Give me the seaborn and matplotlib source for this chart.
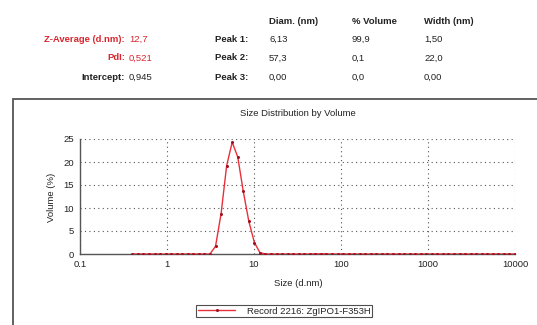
import matplotlib
matplotlib.use("Agg")
import matplotlib.pyplot as plt
import numpy as np
import pandas as pd
import seaborn as sns
from matplotlib.patches import Rectangle
from matplotlib.ticker import FixedLocator, NullFormatter

# Size classes (d.nm) of the record
size_nm = [
    0.4, 0.4632, 0.5365, 0.6213, 0.7195, 0.8332, 0.9649, 1.117, 1.294, 1.499,
    1.736, 2.010, 2.328, 2.696, 3.122, 3.615, 4.187, 4.849, 5.615, 6.503,
    7.531, 8.721, 10.10, 11.70, 13.54, 15.69, 18.17, 21.04, 24.36, 28.21,
    32.67, 37.84, 43.82, 50.75, 58.77, 68.06, 78.82, 91.28, 105.7, 122.4,
    141.8, 164.2, 190.1, 220.2, 255.0, 295.3, 342.0, 396.1, 458.7, 531.2,
    615.1, 712.4, 825.0, 955.4, 1106, 1281, 1484, 1718, 1990, 2305,
    2669, 3091, 3580, 4145, 4801, 5560, 6439, 7456, 8635, 10000,
]
# Volume (%) per size class
volume_pct = [
    0.0, 0.0, 0.0, 0.0, 0.0, 0.0, 0.0, 0.0, 0.0, 0.0,
    0.0, 0.0, 0.0, 0.0, 0.0, 1.7, 8.8, 19.2, 24.3, 21.1,
    13.6, 7.1, 2.5, 0.3, 0.0, 0.0, 0.0, 0.0, 0.0, 0.0,
    0.0, 0.0, 0.0, 0.03, 0.05, 0.02, 0.0, 0.0, 0.0, 0.0,
    0.0, 0.0, 0.0, 0.0, 0.0, 0.0, 0.0, 0.0, 0.0, 0.0,
    0.0, 0.0, 0.0, 0.0, 0.0, 0.0, 0.0, 0.0, 0.0, 0.0,
    0.0, 0.0, 0.0, 0.0, 0.0, 0.0, 0.0, 0.0, 0.0, 0.0,
]
record_label = "Record 2216: ZgIPO1-F353H"

# Summary table
summary_labels = ["Z-Average (d.nm):", "PdI:", "Intercept:"]
summary_values = ["12,7", "0,521", "0,945"]
summary_red = [True, True, False]
peak_headers = ["Diam. (nm)", "% Volume", "Width (nm)"]
peak_names = ["Peak 1:", "Peak 2:", "Peak 3:"]
peak_diam = ["6,13", "57,3", "0,00"]
peak_volume = ["99,9", "0,1", "0,0"]
peak_width = ["1,50", "22,0", "0,00"]

x_ticks = [0.1, 1, 10, 100, 1000, 10000]
x_ticklabels = ["0.1", "1", "10", "100", "1000", "10000"]
y_ticks = [0, 5, 10, 15, 20, 25]

sns.set_style("white")
plt.rcParams["font.family"] = ["Liberation Sans", "DejaVu Sans"]

W, H = 537, 325
fig = plt.figure(figsize=(W / 100, H / 100), dpi=100)


def fx(px):
    return px / W


def fy(py):
    return 1 - py / H


red = "#d8262e"
fs = 6.8

# table text
row_y = [39, 58, 77]
for i in range(3):
    col = red if summary_red[i] else "#222222"
    fig.text(fx(125), fy(row_y[i]), summary_labels[i], ha="right", va="center",
             fontsize=fs, fontweight="bold", color=col)
    fig.text(fx(129), fy(row_y[i]), summary_values[i], ha="left", va="center",
             fontsize=fs, color=col)
    fig.text(fx(215), fy(row_y[i]), peak_names[i], ha="left", va="center",
             fontsize=fs, fontweight="bold", color="#222222")
    for xp, vals in zip([269, 352, 424], [peak_diam, peak_volume, peak_width]):
        fig.text(fx(xp), fy(row_y[i]), vals[i], ha="left", va="center",
                 fontsize=fs, color="#222222")
for xp, h in zip([269, 352, 424], peak_headers):
    fig.text(fx(xp), fy(21), h, ha="left", va="center", fontsize=fs,
             fontweight="bold", color="#222222")

# outer frame of the graph panel
fig.patches.append(Rectangle((fx(13), fy(340)), fx(540), fy(99) - fy(340),
                             transform=fig.transFigure, fill=False,
                             edgecolor="#555555", linewidth=1.3))

ax = fig.add_axes([fx(80), fy(254), fx(515) - fx(80), fy(139) - fy(254)])
df = pd.DataFrame({"size": size_nm, "volume": volume_pct})
sns.lineplot(data=df, x="size", y="volume", ax=ax, color="#e8303a",
             linewidth=1.0, marker="o", markersize=1.4,
             markerfacecolor="#a01020", markeredgecolor="#a01020",
             label=record_label, zorder=3)

ax.set_xscale("log")
ax.set_xlim(0.1, 10000)
ax.set_ylim(0, 25)
ax.set_xticks(x_ticks)
ax.set_xticklabels(x_ticklabels)
ax.xaxis.set_minor_locator(FixedLocator(
    [d * m for d in [0.1, 1, 10, 100, 1000] for m in range(2, 10)]))
ax.xaxis.set_minor_formatter(NullFormatter())
ax.set_yticks(y_ticks)
ax.yaxis.set_minor_locator(FixedLocator(np.arange(2.5, 25, 5)))
ax.tick_params(axis="both", which="major", labelsize=fs, length=3,
               direction="inout", width=0.8, color="#444444", pad=3,
               labelcolor="#222222")
ax.tick_params(axis="both", which="minor", length=2, direction="inout",
               width=0.6, color="#444444")
ax.grid(True, which="major", linestyle=(0, (1, 3)), color="#555555",
        linewidth=0.8)
for side in ["top", "right"]:
    ax.spines[side].set_visible(False)
for side in ["left", "bottom"]:
    ax.spines[side].set_color("#555555")
    ax.spines[side].set_linewidth(1.0)
ax.set_xlabel("")
ax.set_ylabel("")

fig.text(fx(298), fy(114), "Size Distribution by Volume", ha="center",
         va="center", fontsize=fs, color="#222222")
fig.text(fx(298), fy(284), "Size (d.nm)", ha="center", va="center",
         fontsize=fs, color="#222222")
fig.text(fx(52), fy(197), "Volume (%)", ha="center", va="center",
         rotation=90, fontsize=fs, color="#222222")

leg = ax.legend(loc="center", bbox_to_anchor=(fx(284), fy(311)),
                bbox_transform=fig.transFigure, fontsize=fs, frameon=True,
                fancybox=False, handlelength=4, borderpad=0.2,
                handletextpad=1.2, borderaxespad=0)
leg.get_frame().set_edgecolor("#222222")
leg.get_frame().set_linewidth(0.8)

fig.savefig("out.png", dpi=100)
